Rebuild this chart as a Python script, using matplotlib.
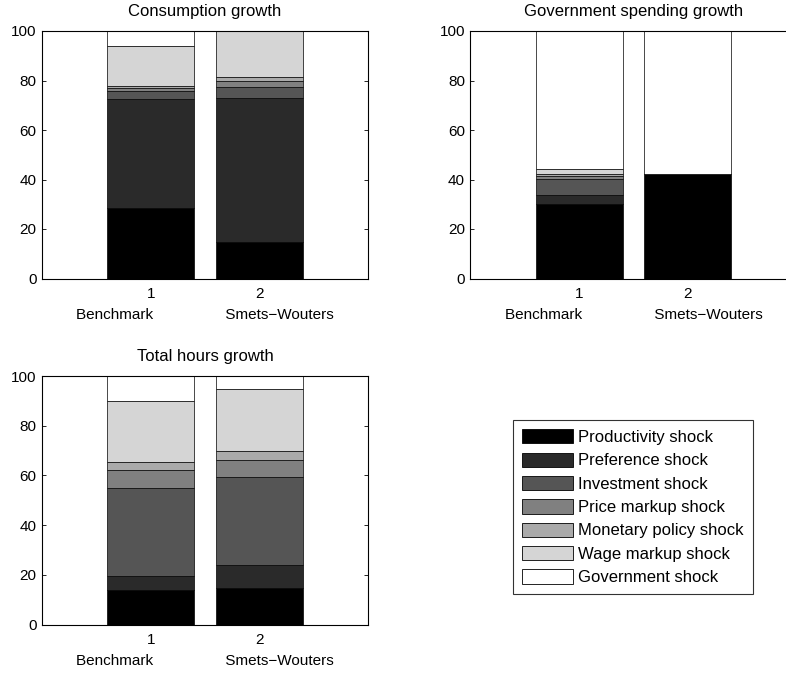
import matplotlib
matplotlib.use("Agg")
import matplotlib.pyplot as plt
from matplotlib.patches import Patch
import numpy as np

plt.rcParams['font.family'] = ['Liberation Sans', 'DejaVu Sans']

shocks = ["Productivity shock", "Preference shock", "Investment shock",
          "Price markup shock", "Monetary policy shock", "Wage markup shock",
          "Government shock"]
colors = ["#000000", "#2a2a2a", "#555555", "#808080", "#aaaaaa", "#d5d5d5", "#ffffff"]
models = ["Benchmark", "Smets\u2212Wouters"]
positions = [1, 2]

# shares (%) per shock, [Benchmark, Smets-Wouters]
consumption = {
    "Productivity shock":    [28.6, 14.9],
    "Preference shock":      [43.9, 58.0],
    "Investment shock":      [3.3, 4.5],
    "Price markup shock":    [1.3, 2.4],
    "Monetary policy shock": [0.8, 1.5],
    "Wage markup shock":     [15.9, 18.5],
    "Government shock":      [6.2, 0.2],
}
gov_spending = {
    "Productivity shock":    [30.0, 42.1],
    "Preference shock":      [3.6, 0.0],
    "Investment shock":      [6.5, 0.0],
    "Price markup shock":    [1.2, 0.0],
    "Monetary policy shock": [0.8, 0.0],
    "Wage markup shock":     [2.3, 0.0],
    "Government shock":      [55.6, 57.9],
}
hours = {
    "Productivity shock":    [14.0, 14.7],
    "Preference shock":      [5.5, 9.4],
    "Investment shock":      [35.5, 35.3],
    "Price markup shock":    [7.4, 6.9],
    "Monetary policy shock": [3.1, 3.7],
    "Wage markup shock":     [24.5, 24.9],
    "Government shock":      [10.0, 5.1],
}

fig = plt.figure(figsize=(7.86, 6.73), dpi=100)
fig.patch.set_facecolor("white")
W, H = 786, 673

def axes_px(left, top, right, bottom):
    return fig.add_axes([left / W, 1 - bottom / H, (right - left) / W, (bottom - top) / H])

panels = [
    ("Consumption growth", consumption, axes_px(42, 31, 368, 278.5)),
    ("Government spending growth", gov_spending, axes_px(470.5, 31, 796.5, 278.5)),
    ("Total hours growth", hours, axes_px(42, 376, 368, 624.7)),
]

for title, data, ax in panels:
    bottom = np.zeros(len(positions))
    for name, col in zip(shocks, colors):
        vals = np.array(data[name])
        ax.bar(positions, vals, width=0.8, bottom=bottom, color=col,
               edgecolor="black", linewidth=0.5, zorder=2)
        bottom += vals
    ax.set_xlim(0, 3)
    ax.set_ylim(0, 100)
    ax.set_yticks([0, 20, 40, 60, 80, 100])
    ax.set_xticks(positions)
    ax.set_xticklabels([str(p) for p in positions])
    ax.tick_params(direction="in", length=3, width=0.6, labelsize=11,
                   top=True, right=True, pad=4)
    ax.tick_params(axis="x", pad=6)
    ax.set_xlabel(models[0] + " " * 17 + models[1], fontsize=11, labelpad=5)
    for s in ax.spines.values():
        s.set_linewidth(0.8)
        s.set_zorder(3)
    ax.set_title(title, fontsize=12, pad=10.5)

# right side of the top-right panel lies outside the canvas
panels[1][2].spines["right"].set_visible(False)
panels[1][2].tick_params(right=False)

handles = [Patch(facecolor=c, edgecolor="black", linewidth=0.6) for c in colors]
leg = fig.legend(handles, shocks, loc="upper left",
                 bbox_to_anchor=(513 / W, 1 - 420 / H),
                 fontsize=12, frameon=True, fancybox=False,
                 handlelength=3.05, handleheight=0.94, handletextpad=0.3,
                 labelspacing=0.45, borderpad=0.55, borderaxespad=0)
leg.get_frame().set_edgecolor("black")
leg.get_frame().set_linewidth(0.8)

fig.savefig("out.png", dpi=100, facecolor="white")
